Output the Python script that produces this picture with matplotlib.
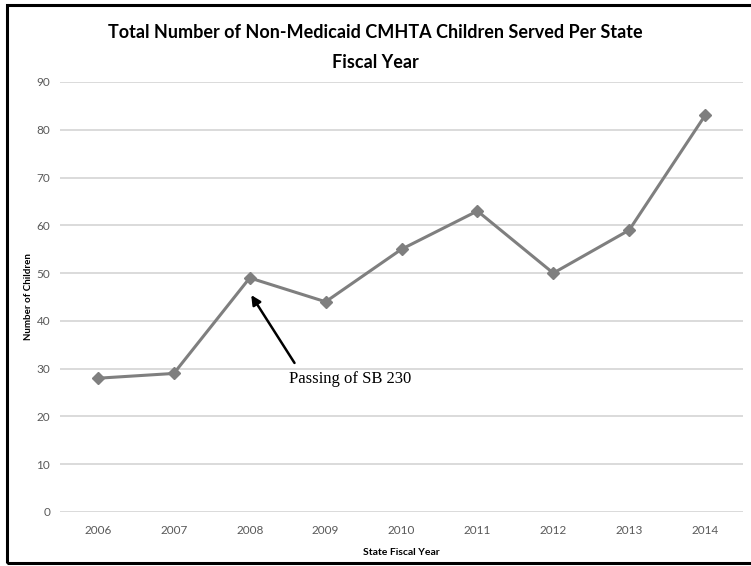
import matplotlib
matplotlib.use("Agg")
import matplotlib.pyplot as plt
from matplotlib.patches import Rectangle

years = ["2006", "2007", "2008", "2009", "2010", "2011", "2012", "2013", "2014"]
children = [28, 29, 49, 44, 55, 63, 50, 59, 83]
yticks = [0, 10, 20, 30, 40, 50, 60, 70, 80, 90]

W, H = 751, 566
fig = plt.figure(figsize=(W / 100, H / 100), dpi=100)
ax = fig.add_axes([60 / W, 1 - 512 / H, (743 - 60) / W, (512 - 82) / H])

x = list(range(len(years)))
ax.plot(x, children, color="#7f7f7f", linewidth=2.2, marker="D", markersize=6,
        markerfacecolor="#7f7f7f", markeredgecolor="#7f7f7f", zorder=3)

ax.set_xlim(-0.5, len(years) - 0.5)
ax.set_ylim(0, 90)
ax.set_xticks(x)
ax.set_xticklabels(years)
ax.set_yticks(yticks)
ax.grid(axis="y", color="#d4d4d4", linewidth=1.2)
ax.set_axisbelow(True)
for s in ax.spines.values():
    s.set_visible(False)
ax.tick_params(axis="y", length=0, labelsize=8.5, labelcolor="#595959", pad=7, labelfontfamily="Lato")
ax.tick_params(axis="x", length=0, labelsize=8.5, labelcolor="#595959", pad=9, labelfontfamily="Lato")

ax.set_xlabel("State Fiscal Year", fontsize=7.5, fontweight="bold", family="Lato", labelpad=9)
ax.set_ylabel("Number of Children", fontsize=7, fontweight="bold", family="Lato")
ax.yaxis.set_label_coords((33 - 60) / 683, 0.5)

# arrow and label for the law change
ax.annotate("", xy=(2.02, 45.4), xytext=(2.59, 31.2),
            arrowprops=dict(arrowstyle="-|>", color="black", lw=1.8, mutation_scale=14,
                            shrinkA=0, shrinkB=0))
ax.text(2.52, 27.8, "Passing of SB 230", fontsize=12, family="Liberation Serif",
        ha="left", va="center")

fig.text(0.5, 1 - 32 / H, "Total Number of Non-Medicaid CMHTA Children Served Per State",
         ha="center", va="center", fontsize=13, fontweight="bold", family="Lato")
fig.text(0.5, 1 - 63 / H, "Fiscal Year",
         ha="center", va="center", fontsize=13, fontweight="bold", family="Lato")

fig.patches.append(Rectangle((7 / W, 1 - 563 / H), 760 / W, (563 - 5) / H,
                             transform=fig.transFigure, fill=False,
                             edgecolor="black", linewidth=2.2))

fig.savefig("out.png", dpi=100)
